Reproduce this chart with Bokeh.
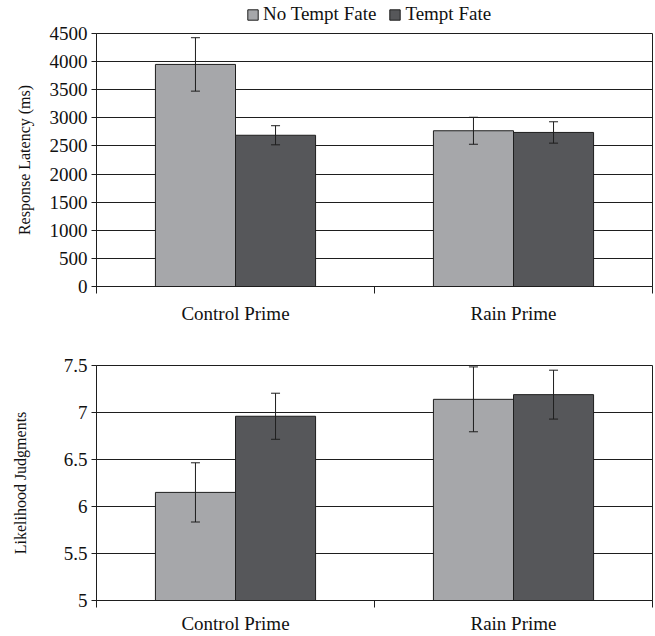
from bokeh.plotting import figure
from bokeh.models import (ColumnDataSource, Whisker, TeeHead, FixedTicker, Legend,
                          LegendItem, Range1d, NumeralTickFormatter, CustomJSTickFormatter)
from bokeh.layouts import column
from bokeh.embed import file_html
from bokeh.resources import INLINE

categories = ["Control Prime", "Rain Prime"]
series = ["No Tempt Fate", "Tempt Fate"]

latency_no_tempt = [3950, 2770]
latency_no_tempt_err = [475, 240]
latency_tempt = [2690, 2740]
latency_tempt_err = [170, 190]
latency_ticks = [0, 500, 1000, 1500, 2000, 2500, 3000, 3500, 4000, 4500]

likelihood_no_tempt = [6.15, 7.14]
likelihood_no_tempt_err = [0.315, 0.345]
likelihood_tempt = [6.96, 7.19]
likelihood_tempt_err = [0.245, 0.26]
likelihood_ticks = [5, 5.5, 6, 6.5, 7, 7.5]

FONT = "Liberation Serif"
COLORS = ["#a6a7aa", "#56575a"]
EDGE = "#1e1e1e"
BAR_W = 0.288


def make_panel(vals, errs, ticks, ylabel, fmt, height, btop, bbot, label_standoff,
               x_standoff):
    p = figure(width=655, height=height, output_backend="svg", toolbar_location=None,
               x_range=Range1d(0, len(categories)), y_range=Range1d(ticks[0], ticks[-1]),
               min_border_left=96, min_border_right=3, min_border_top=btop,
               min_border_bottom=bbot)
    p.outline_line_color = EDGE
    p.outline_line_width = 1
    p.xgrid.grid_line_color = None
    p.ygrid.grid_line_color = EDGE
    p.ygrid.grid_line_width = 1
    p.background_fill_color = "white"
    p.border_fill_color = "white"

    for s, (v, e) in enumerate(zip(vals, errs)):
        off = (s - (len(vals) - 1) / 2) * BAR_W
        xs = [i + 0.5 + off for i in range(len(categories))]
        src = ColumnDataSource(dict(x=xs, top=v, lo=[a - b for a, b in zip(v, e)],
                                    hi=[a + b for a, b in zip(v, e)]))
        p.vbar(x="x", top="top", bottom=ticks[0], width=BAR_W, source=src,
               fill_color=COLORS[s], line_color=EDGE, line_width=1)
        w = Whisker(base="x", lower="lo", upper="hi", source=src, line_color=EDGE,
                    line_width=1, level="annotation",
                    lower_head=TeeHead(size=9, line_color=EDGE, line_width=1),
                    upper_head=TeeHead(size=9, line_color=EDGE, line_width=1))
        p.add_layout(w)

    ya = p.yaxis[0]
    ya.ticker = FixedTicker(ticks=ticks, minor_ticks=[])
    ya.formatter = NumeralTickFormatter(format=fmt)
    ya.major_label_text_font = FONT
    ya.major_label_text_font_size = "19px"
    ya.major_label_text_color = "#111111"
    ya.major_tick_out = 5
    ya.major_tick_in = 0
    ya.major_label_standoff = 4
    ya.axis_line_color = EDGE
    ya.major_tick_line_color = EDGE
    ya.axis_label = ylabel
    ya.axis_label_text_font = FONT
    ya.axis_label_text_font_size = "16px"
    ya.axis_label_text_font_style = "normal"
    ya.axis_label_text_color = "#111111"
    ya.axis_label_standoff = label_standoff

    xa = p.xaxis[0]
    xa.ticker = FixedTicker(ticks=[i + 0.5 for i in range(len(categories))],
                            minor_ticks=list(range(len(categories) + 1)))
    xa.formatter = CustomJSTickFormatter(args=dict(cats=categories),
                                         code="return cats[Math.round(tick - 0.5)];")
    xa.major_tick_line_color = None
    xa.major_tick_out = 0
    xa.major_tick_in = 0
    xa.minor_tick_line_color = EDGE
    xa.minor_tick_out = 7
    xa.minor_tick_in = 0
    xa.axis_line_color = EDGE
    xa.major_label_text_font = FONT
    xa.major_label_text_font_size = "19px"
    xa.major_label_text_color = "#111111"
    xa.major_label_standoff = x_standoff
    return p


# legend strip (its own small canvas so that nothing clips it)
lg = figure(width=655, height=25, output_backend="svg", toolbar_location=None,
            x_axis_location=None, y_axis_location=None,
            x_range=Range1d(0, 1), y_range=Range1d(0, 1),
            min_border_left=96, min_border_right=3, min_border_top=0, min_border_bottom=0)
lg.outline_line_color = None
lg.grid.grid_line_color = None
swatches = []
for s in range(len(series)):
    # swatch-only renderer kept outside the visible range; the legend draws its sample
    swatch_src = ColumnDataSource(dict(x=[-5], top=[0]))
    swatches.append(lg.vbar(x="x", top="top", bottom=0, width=0.1, source=swatch_src,
                            fill_color=COLORS[s], line_color=EDGE, line_width=1))
leg = Legend(items=[LegendItem(label=series[k], renderers=[swatches[k]])
                    for k in range(len(series))],
             orientation="horizontal", location=(150, 0),
             label_text_font=FONT, label_text_font_size="19px",
             label_text_color="#111111", glyph_width=13, glyph_height=13,
             spacing=12, padding=0, margin=0, border_line_color=None,
             background_fill_alpha=0, label_standoff=4)
lg.add_layout(leg)

top = make_panel([latency_no_tempt, latency_tempt],
                 [latency_no_tempt_err, latency_tempt_err],
                 latency_ticks, "Response Latency (ms)", "0", 310, 8, 49, 14, 9)

bottom = make_panel([likelihood_no_tempt, likelihood_tempt],
                    [likelihood_no_tempt_err, likelihood_tempt_err],
                    likelihood_ticks, "Likelihood Judgments", "0.[0]", 301, 30, 36, 32, 5)

layout = column(lg, top, bottom, spacing=0)
open("out.html", "w").write(file_html(layout, INLINE))
